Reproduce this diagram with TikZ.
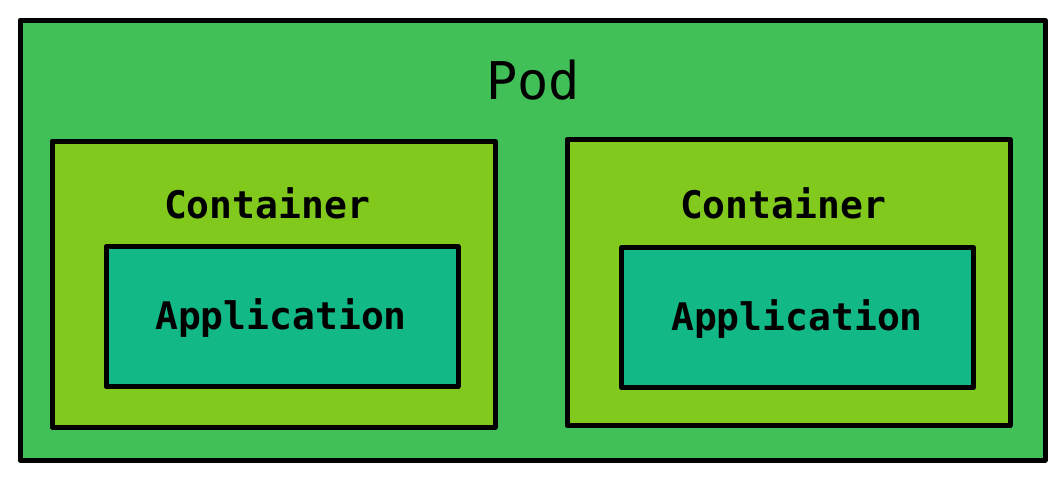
\documentclass[tikz,border=0pt]{standalone}
\usepackage{fontspec}
\setmonofont{DejaVu Sans Mono}
\usepackage{xcolor}
\usetikzlibrary{positioning}

\definecolor{podgreen}{HTML}{40C057}
\definecolor{boxlime}{HTML}{82C91E}
\definecolor{appteal}{HTML}{12B886}

\begin{document}
\begin{tikzpicture}[x=1pt,y=-1pt,
			every node/.style={draw,line width=5pt,line join=round,inner sep=0pt,font=\ttfamily},
			podbox/.style={fill=podgreen,minimum width=1025pt,minimum height=440pt},
			ctrbox/.style={fill=boxlime,minimum width=443pt,minimum height=286pt},
			appbox/.style={fill=appteal,minimum width=352pt,minimum height=140pt},
			lbl/.style={draw=none,fill=none}]
		\useasboundingbox (0,0) rectangle (1063,479);
		% pod
		\node[podbox] (pod) at (532.5,240) {};
		\node[lbl,font=\ttfamily\fontsize{52}{52}\selectfont] (podlbl) at (533,80) {Pod};
		% left container
		\node[ctrbox] (ctrA) at (273.5,284) {};
		\node[lbl,font=\ttfamily\bfseries\fontsize{38}{38}\selectfont] (ctrAlbl) at (267,203) {Container};
		\node[appbox] (appA) at (282,316.5) {};
		\node[lbl,font=\ttfamily\bfseries\fontsize{38}{38}\selectfont] (appAlbl) at (281,318) {Application};
		% right container
		\node[ctrbox] (ctrB) at (788.5,282.5) {};
		\node[lbl,font=\ttfamily\bfseries\fontsize{38}{38}\selectfont] (ctrBlbl) at (783,203) {Container};
		\node[appbox] (appB) at (797.5,317.5) {};
		\node[lbl,font=\ttfamily\bfseries\fontsize{38}{38}\selectfont] (appBlbl) at (797,319) {Application};
\end{tikzpicture}
\end{document}
